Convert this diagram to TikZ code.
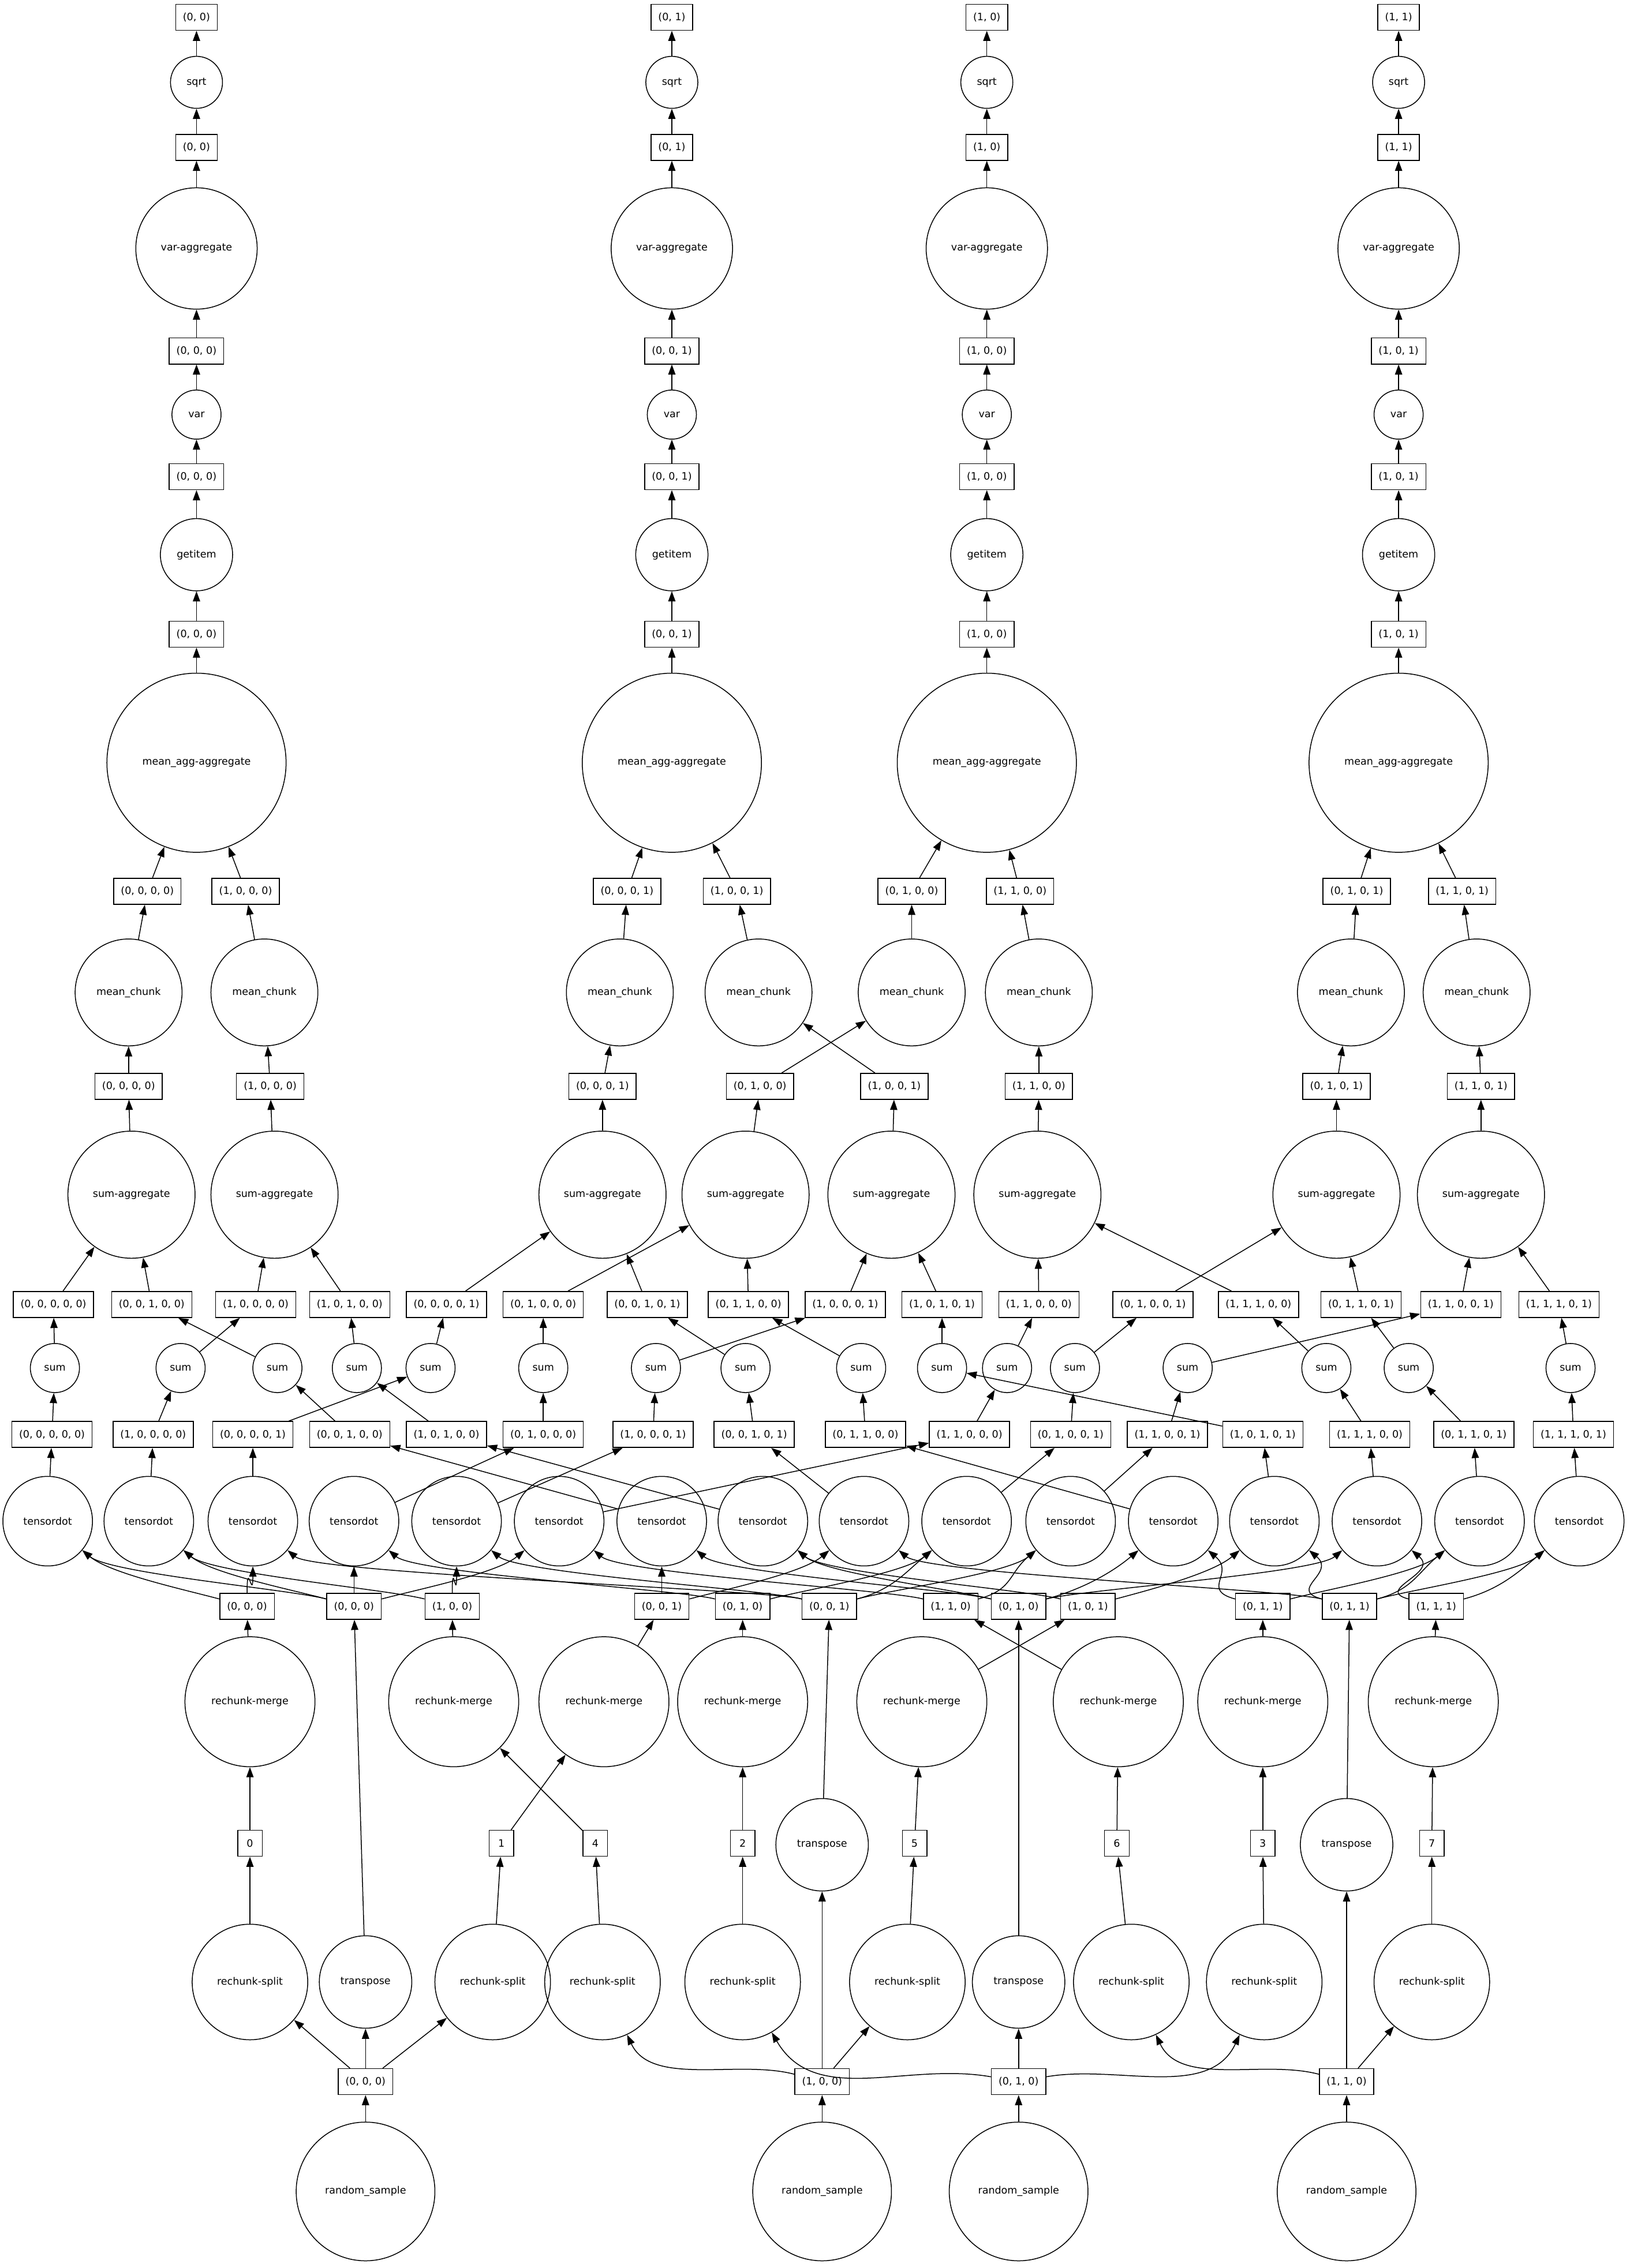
\documentclass[tikz,border=0pt]{standalone}
\usepackage{fontspec}
\setmainfont{DejaVu Sans}
\usetikzlibrary{arrows.meta}
\begin{document}
\begin{tikzpicture}[x=1pt,y=-1pt,
 bx/.style={draw,rectangle,minimum height=18pt,inner xsep=5pt,inner ysep=0pt,font=\fontsize{7pt}{8pt}\selectfont,line width=0.6pt},
 cir/.style={draw,circle,inner sep=0pt,minimum size=#1,font=\fontsize{7pt}{8pt}\selectfont,line width=0.6pt},
 ar/.style={line width=0.6pt,-{Triangle[length=7pt,width=5pt]}}]
\useasboundingbox[fill=white] (0,0) rectangle (1128,1570);
% top chains
\foreach \n/\x/\a/\b in {A/136/{(0, 0)}/{(0, 0, 0)}, B/465/{(0, 1)}/{(0, 0, 1)}, C/683/{(1, 0)}/{(1, 0, 0)}, D/968/{(1, 1)}/{(1, 0, 1)}}{
 \node[bx] (o\n) at (\x,12) {\a};
 \node[cir=36pt] (sq\n) at (\x,57) {sqrt};
 \node[bx] (p\n) at (\x,102) {\a};
 \node[cir=84pt] (va\n) at (\x,172) {var-aggregate};
 \node[bx] (q\n) at (\x,243) {\b};
 \node[cir=34pt] (v\n) at (\x,287) {var};
 \node[bx] (r\n) at (\x,330) {\b};
 \node[cir=50pt] (g\n) at (\x,384) {getitem};
 \node[bx] (s\n) at (\x,439) {\b};
 \node[cir=124pt] (ma\n) at (\x,528) {mean\_agg-aggregate};
 \draw[ar] (ma\n) -- (s\n);
 \draw[ar] (s\n) -- (g\n);
 \draw[ar] (g\n) -- (r\n);
 \draw[ar] (r\n) -- (v\n);
 \draw[ar] (v\n) -- (q\n);
 \draw[ar] (q\n) -- (va\n);
 \draw[ar] (va\n) -- (p\n);
 \draw[ar] (p\n) -- (sq\n);
 \draw[ar] (sq\n) -- (o\n);
}
% mean level
\foreach \i/\kx/\mx/\nx/\sx/\l/\ma/\lb in {
 1/102/89/89/91/{(0, 0, 0, 0)}/A/{(0, 0, 0, 0)},
 2/170/183/187/190/{(1, 0, 0, 0)}/A/{(1, 0, 0, 0)},
 3/434/429/417/417/{(0, 0, 0, 1)}/B/{(0, 0, 0, 1)},
 4/510/525/619/617/{(1, 0, 0, 1)}/B/{(1, 0, 0, 1)},
 5/631/631/526/516/{(0, 1, 0, 0)}/C/{(0, 1, 0, 0)},
 6/706/719/719/718/{(1, 1, 0, 0)}/C/{(1, 1, 0, 0)},
 7/939/935/925/925/{(0, 1, 0, 1)}/D/{(0, 1, 0, 1)},
 8/1012/1022/1025/1025/{(1, 1, 0, 1)}/D/{(1, 1, 0, 1)}}{
 \node[bx] (k\i) at (\kx,617) {\l};
 \node[cir=74pt] (m\i) at (\mx,687) {mean\_chunk};
 \node[bx] (n\i) at (\nx,752) {\lb};
 \node[cir=88pt] (sa\i) at (\sx,827) {sum-aggregate};
 \draw[ar] (k\i) -- (ma\ma);
 \draw[ar] (m\i) -- (k\i);
 \draw[ar] (n\i) -- (m\i);
 \draw[ar] (sa\i) -- (n\i);
}
% inputs level
\foreach \k/\x/\l in {M000/171/{(0, 0, 0)}, X000/245/{(0, 0, 0)}, M100/313/{(1, 0, 0)}, M001/458/{(0, 0, 1)}, M010/514/{(0, 1, 0)}, X001/574/{(0, 0, 1)}, M110/658/{(1, 1, 0)}, X010/705/{(0, 1, 0)}, M101/753/{(1, 0, 1)}, M011/874/{(0, 1, 1)}, X011/934/{(0, 1, 1)}, M111/994/{(1, 1, 1)}}{
 \node[bx] (\k) at (\x,1112) {\l};
}
\foreach \k/\l/\ux/\sx/\wx/\tx/\m/\mx/\xt/\xx/\sa in {
 00000/{(0, 0, 0, 0, 0)}/37/38/36/33/M000/171/X000/245/1,
 10000/{(1, 0, 0, 0, 0)}/177/125/106/103/M100/313/X000/245/2,
 00100/{(0, 0, 1, 0, 0)}/105/192/242/458/M001/458/X010/705/1,
 10100/{(1, 0, 1, 0, 0)}/242/247/309/528/M101/753/X010/705/2,
 00001/{(0, 0, 0, 0, 1)}/309/298/175/175/M000/171/X001/574/3,
 01000/{(0, 1, 0, 0, 0)}/376/376/376/245/M010/514/X000/245/5,
 10001/{(1, 0, 0, 0, 1)}/585/454/452/316/M100/313/X001/574/4,
 00101/{(0, 0, 1, 0, 1)}/448/516/522/598/M001/458/X011/934/3,
 01100/{(0, 1, 1, 0, 0)}/518/596/599/812/M011/874/X010/705/5,
 10101/{(1, 0, 1, 0, 1)}/652/652/874/882/M101/753/X011/934/4,
 11000/{(1, 1, 0, 0, 0)}/719/697/671/387/M110/658/X000/245/6,
 01001/{(0, 1, 0, 0, 1)}/798/744/741/669/M010/514/X001/574/7,
 11001/{(1, 1, 0, 0, 1)}/1011/822/808/741/M110/658/X001/574/8,
 11100/{(1, 1, 1, 0, 0)}/871/918/948/953/M111/994/X010/705/6,
 01101/{(0, 1, 1, 0, 1)}/942/975/1020/1024/M011/874/X011/934/7,
 11101/{(1, 1, 1, 0, 1)}/1079/1087/1089/1093/M111/994/X011/934/8}{
 \node[bx] (u\k) at (\ux,903) {\l};
 \node[cir=34pt] (s\k) at (\sx,947) {sum};
 \node[bx] (w\k) at (\wx,993) {\l};
 \node[cir=62pt] (t\k) at (\tx,1053) {tensordot};
 \draw[ar] (u\k) -- (sa\sa);
 \draw[ar] (s\k) -- (u\k);
 \draw[ar] (w\k) -- (s\k);
 \draw[ar] (t\k) -- (w\k);
 \pgfmathsetmacro\oa{ifthenelse(\tx<\mx-20,165,ifthenelse(\tx>\mx+20,15,90))}
 \pgfmathsetmacro\ia{ifthenelse(\tx<\mx-20,-40,ifthenelse(\tx>\mx+20,-140,-90))}
 \draw[ar] (\m) to[out=\oa,in=\ia,distance=25pt] (t\k);
 \pgfmathsetmacro\ob{ifthenelse(\tx<\xx-20,165,ifthenelse(\tx>\xx+20,15,90))}
 \pgfmathsetmacro\ib{ifthenelse(\tx<\xx-20,-40,ifthenelse(\tx>\xx+20,-140,-90))}
 \draw[ar] (\xt) to[out=\ob,in=\ib,distance=25pt] (t\k);
}
% merges, numbers, splits
\foreach \d/\mx/\nx/\sx/\key/\src in {0/173/173/173/000/R000, 1/418/347/341/001/R000, 4/314/412/417/100/R100, 2/514/514/514/010/R010, 5/638/633/628/101/R100, 6/774/773/783/110/R110, 3/874/874/875/011/R010, 7/992/991/991/111/R110}{
 \node[cir=90pt] (rm\key) at (\mx,1178) {rechunk-merge};
 \node[bx,minimum width=17pt] (nb\d) at (\nx,1276) {\d};
 \node[cir=80pt] (sp\d) at (\sx,1372) {rechunk-split};
 \draw[ar] (rm\key) -- (M\key);
 \draw[ar] (nb\d) -- (rm\key);
 \draw[ar] (sp\d) -- (nb\d);
}
\foreach \k/\x/\l/\ty/\xt in {000/253/{(0, 0, 0)}/1372/X000, 100/569/{(1, 0, 0)}/1277/X001, 010/705/{(0, 1, 0)}/1372/X010, 110/932/{(1, 1, 0)}/1277/X011}{
 \node[bx] (R\k) at (\x,1441) {\l};
 \node[cir=96pt] (rs\k) at (\x,1517) {random\_sample};
 \node[cir=64pt] (T\k) at (\x,\ty) {transpose};
 \draw[ar] (rs\k) -- (R\k);
 \draw[ar] (R\k) -- (T\k);
 \draw[ar] (T\k) -- (\xt);
}
\draw[ar] (R000) -- (sp0);
\draw[ar] (R000) -- (sp1);
\draw[ar] (R100) to[out=165,in=-65,distance=40pt] (sp4);
\draw[ar] (R100) -- (sp5);
\draw[ar] (R010) to[out=170,in=-60,distance=60pt] (sp2);
\draw[ar] (R010) to[out=10,in=-115,distance=50pt] (sp3);
\draw[ar] (R110) to[out=165,in=-65,distance=40pt] (sp6);
\draw[ar] (R110) -- (sp7);
\end{tikzpicture}
\end{document}
